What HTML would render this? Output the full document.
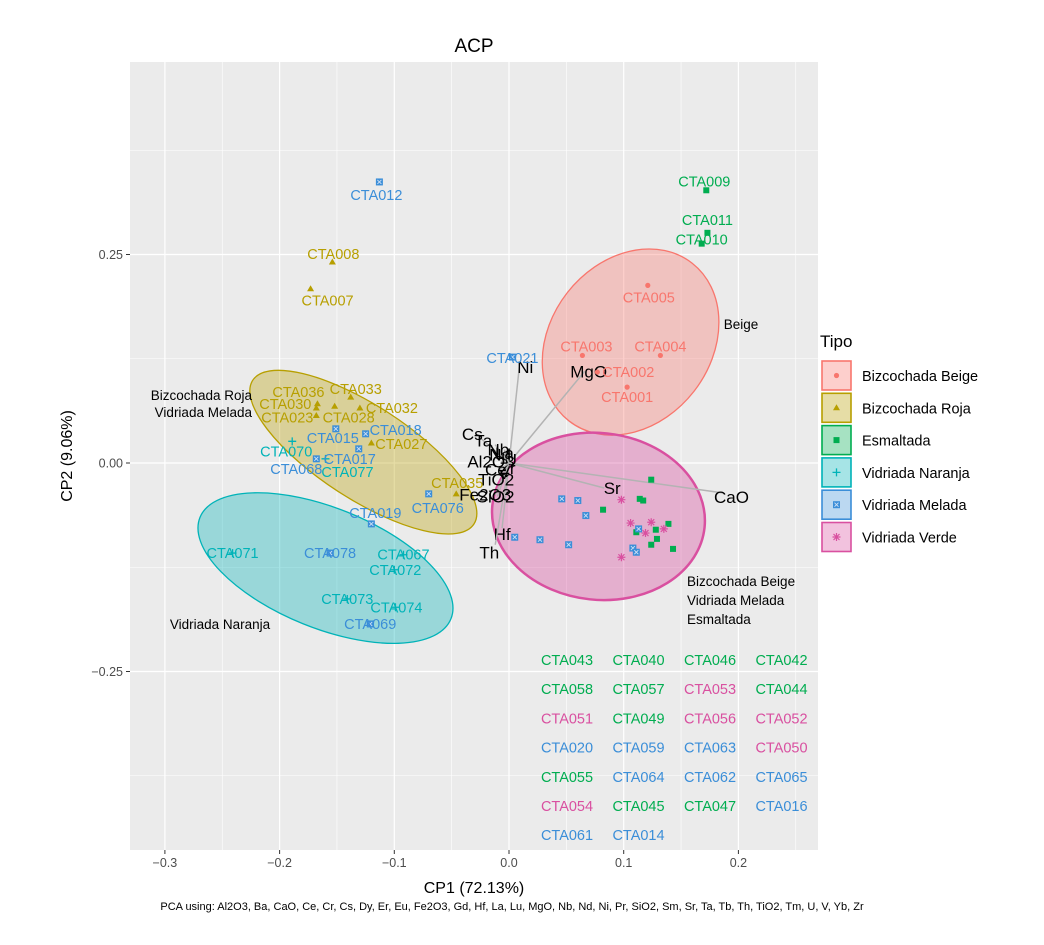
<!DOCTYPE html>
<html><head><meta charset="utf-8"><style>
body{margin:0;background:#fff;font-family:"Liberation Sans",sans-serif}
svg text{font-family:"Liberation Sans",sans-serif}
</style></head><body>
<svg id="chart" width="1044" height="940" xmlns="http://www.w3.org/2000/svg">
<rect width="1044" height="940" fill="#fff"/>
<rect x="130" y="62" width="688" height="788" fill="#EBEBEB"/>
<g id="grid"></g><g id="ellipses"></g><g id="arrows"></g><g id="points"></g><g id="labels"></g><g id="axes"></g>
<text x="474" y="52" font-size="19" text-anchor="middle">ACP</text>
<text x="474" y="893" font-size="16" text-anchor="middle">CP1 (72.13%)</text>
<text transform="translate(72,456) rotate(-90)" font-size="16" text-anchor="middle">CP2 (9.06%)</text>
<text x="512" y="910" font-size="11" text-anchor="middle">PCA using: Al2O3, Ba, CaO, Ce, Cr, Cs, Dy, Er, Eu, Fe2O3, Gd, Hf, La, Lu, MgO, Nb, Nd, Ni, Pr, SiO2, Sm, Sr, Ta, Tb, Th, TiO2, Tm, U, V, Yb, Zr</text>
<g id="legend"><text x="820" y="347" font-size="17">Tipo</text></g>
<g id="table"></g>
</svg>
<script>
const NS="http://www.w3.org/2000/svg";
const X=v=>509+v*1147, Y=v=>463-v*834;
const colors={Beige:"#F8766D",Roja:"#B79F00",Esm:"#00AD50",Nar:"#00B3B8",Mel:"#3B8ED8",Ver:"#D950A0"};
const xTicks=[-0.3,-0.2,-0.1,0,0.1,0.2];
const xTickLabels=["\u22120.3","\u22120.2","\u22120.1","0.0","0.1","0.2"];
const yTicks=[-0.25,0,0.25];
const yTickLabels=["\u22120.25","0.00","0.25"];
const ptIds=["CTA005","CTA003","CTA004","CTA002","CTA001","CTA009","CTA011","CTA010","CTA012","CTA021","CTA015","CTA018","CTA017","CTA068","CTA076","CTA019","CTA078","CTA069","CTA070","CTA077","CTA071","CTA067","CTA072","CTA073","CTA074","CTA008","CTA007","CTA036","CTA030","CTA023","CTA028","CTA033","CTA032","CTA027","CTA035"];
const ptType=["Beige","Beige","Beige","Beige","Beige","Esm","Esm","Esm","Mel","Mel","Mel","Mel","Mel","Mel","Mel","Mel","Mel","Mel","Nar","Nar","Nar","Nar","Nar","Nar","Nar","Roja","Roja","Roja","Roja","Roja","Roja","Roja","Roja","Roja","Roja"];
const ptPC1=[0.121,0.064,0.132,0.077,0.103,0.172,0.173,0.168,-0.113,0.003,-0.151,-0.125,-0.131,-0.168,-0.070,-0.120,-0.156,-0.121,-0.189,-0.160,-0.241,-0.092,-0.100,-0.141,-0.099,-0.154,-0.173,-0.167,-0.168,-0.168,-0.152,-0.138,-0.130,-0.120,-0.046];
const ptPC2=[0.213,0.129,0.129,0.109,0.091,0.327,0.276,0.263,0.337,0.127,0.041,0.035,0.017,0.005,-0.037,-0.073,-0.108,-0.193,0.026,0.005,-0.108,-0.110,-0.128,-0.163,-0.173,0.241,0.209,0.071,0.066,0.057,0.068,0.079,0.066,0.024,-0.037];
const lblDx=[1,4,0,31,0,-2,0,0,-3,0,-3,30,-9,-20,9,4,0,0,-6,22,0,0,1,0,1,1,17,-19,-31,-29,14,5,32,30,1];
const lblDy=[12,-9,-9,0,10,-9,-13,-4,13,1,9,-4,10,10,14,-11,0,0,10,13,0,0,0,0,0,-8,12,-12,-4,2,11,-8,0,1,-11];
const upType=["Esm","Esm","Esm","Esm","Esm","Esm","Esm","Esm","Esm","Esm","Ver","Ver","Ver","Ver","Ver","Ver","Mel","Mel","Mel","Mel","Mel","Mel","Mel","Mel","Mel"];
const upPC1=[0.124,0.114,0.117,0.082,0.111,0.128,0.139,0.129,0.124,0.143,0.098,0.106,0.124,0.119,0.135,0.098,0.046,0.060,0.067,0.113,0.108,0.111,0.005,0.027,0.052];
const upPC2=[-0.020,-0.043,-0.045,-0.056,-0.083,-0.080,-0.073,-0.091,-0.098,-0.103,-0.044,-0.072,-0.071,-0.084,-0.079,-0.113,-0.043,-0.045,-0.063,-0.079,-0.102,-0.107,-0.089,-0.092,-0.098];
const vars=["Ni","MgO","CaO","Sr","Cs","Ta","Hf","Th","Al2O3","Fe2O3","SiO2","TiO2","Nb","Nd","U","V","Zr","La","Ce"];
const load1=[0.009,0.066,0.187,0.083,-0.025,-0.012,-0.006,-0.012,-0.007,-0.012,-0.010,-0.006,-0.004,-0.006,-0.002,-0.006,-0.003,-0.004,-0.008];
const load2=[0.115,0.110,-0.036,-0.030,0.030,0.022,-0.078,-0.098,0.002,-0.038,-0.040,-0.020,0.016,0.010,0.004,-0.012,-0.006,0.012,-0.008];
const varDx=[6,4,8,8,-8,-12,0,-6,-10,-10,-2,-6,-6,-2,4,2,2,0,-4];
const varDy=[0,0,4,0,-4,-4,6,8,0,0,0,0,0,0,0,0,0,0,0];
const ellType=["Beige","Ver","Roja","Nar"];
const ellCX=[0.106,0.078,-0.127,-0.160];
const ellCY=[0.145,-0.064,0.013,-0.126];
const ellRX=[0.070,0.093,0.115,0.118];
const ellRY=[0.120,0.100,0.056,0.072];
const ellAngle=[38,6,33,22];
const legTypes=["Beige","Roja","Esm","Nar","Mel","Ver"];
const legNames=["Bizcochada Beige","Bizcochada Roja","Esmaltada","Vidriada Naranja","Vidriada Melada","Vidriada Verde"];
const tableIds=[["CTA043","CTA040","CTA046","CTA042"],["CTA058","CTA057","CTA053","CTA044"],["CTA051","CTA049","CTA056","CTA052"],["CTA020","CTA059","CTA063","CTA050"],["CTA055","CTA064","CTA062","CTA065"],["CTA054","CTA045","CTA047","CTA016"],["CTA061","CTA014"]];
const tableType=[["Esm","Esm","Esm","Esm"],["Esm","Esm","Ver","Esm"],["Ver","Esm","Ver","Ver"],["Mel","Mel","Mel","Ver"],["Esm","Mel","Mel","Mel"],["Ver","Esm","Esm","Mel"],["Mel","Mel"]];

function el(tag,attrs,parent){const e=document.createElementNS(NS,tag);for(const k in attrs)e.setAttribute(k,attrs[k]);parent.appendChild(e);return e;}
const g=id=>document.getElementById(id);
const grid=g("grid");
for(let v=-0.35;v<=0.26;v+=0.1){const l=el("line",{x1:X(v),x2:X(v),y1:62,y2:850,stroke:"#fff","stroke-width":0.6},grid);}
[-0.375,-0.125,0.125,0.375].forEach(v=>{const l=el("line",{x1:130,x2:818,y1:Y(v),y2:Y(v),stroke:"#fff","stroke-width":0.6},grid);});
const ax=g("axes");
xTicks.forEach((v,i)=>{const l=el("line",{x1:X(v),x2:X(v),y1:62,y2:850,stroke:"#fff","stroke-width":1.2},grid);
el("line",{x1:X(v),x2:X(v),y1:850,y2:854,stroke:"#333"},ax);
const t=el("text",{x:X(v),y:867,"font-size":12.5,fill:"#4d4d4d","text-anchor":"middle"},ax);t.textContent=xTickLabels[i];});
yTicks.forEach((v,i)=>{const l=el("line",{x1:130,x2:818,y1:Y(v),y2:Y(v),stroke:"#fff","stroke-width":1.2},grid);
el("line",{x1:126,x2:130,y1:Y(v),y2:Y(v),stroke:"#333"},ax);
const t=el("text",{x:123,y:Y(v)+4.5,"font-size":12.5,fill:"#4d4d4d","text-anchor":"end"},ax);t.textContent=yTickLabels[i];});
ellType.forEach((t,i)=>{const e=el("ellipse",{cx:X(ellCX[i]),cy:Y(ellCY[i]),rx:ellRX[i]*1147,ry:ellRY[i]*834,fill:colors[t],"fill-opacity":t=="Ver"?0.38:0.35,stroke:colors[t],"stroke-width":t=="Ver"?2.5:1.3,transform:`rotate(${ellAngle[i]} ${X(ellCX[i])} ${Y(ellCY[i])})`},g("ellipses"));});
const ann=[["Beige",741,329,"middle"],["Bizcochada Roja",252,400,"end"],["Vidriada Melada",252,417,"end"],["Vidriada Naranja",220,629,"middle"],["Bizcochada Beige",687,586,"start"],["Vidriada Melada",687,605,"start"],["Esmaltada",687,624,"start"]];
ann.forEach(a=>{const t=el("text",{x:a[1],y:a[2],"font-size":13.5,"text-anchor":a[3]},g("ellipses"));t.textContent=a[0];});
function marker(type,x,y,parent){const c=colors[type];let m;
if(type=="Beige")m=el("circle",{cx:x,cy:y,r:2.6,fill:c},parent);
else if(type=="Roja")m=el("polygon",{points:`${x},${y-3.5} ${x-3.5},${y+2.5} ${x+3.5},${y+2.5}`,fill:c},parent);
else if(type=="Esm")m=el("rect",{x:x-3,y:y-3,width:6,height:6,fill:c},parent);
else if(type=="Nar")m=el("path",{d:`M${x-4},${y}H${x+4}M${x},${y-4}V${y+4}`,stroke:c,"stroke-width":1.3},parent);
else if(type=="Mel"){m=el("g",{},parent);el("rect",{x:x-3.5,y:y-3.5,width:7,height:7,fill:c},m);el("path",{d:`M${x-2},${y-2}L${x+2},${y+2}M${x+2},${y-2}L${x-2},${y+2}`,stroke:"#cfe0f5","stroke-width":0.9},m);}
else{m=el("path",{d:`M${x-4},${y}H${x+4}M${x},${y-4}V${y+4}M${x-3},${y-3}L${x+3},${y+3}M${x+3},${y-3}L${x-3},${y+3}`,stroke:c,"stroke-width":1.2},parent);}
return m;}
const ar=g("arrows");
vars.forEach((v,i)=>{const x2=X(load1[i]),y2=Y(load2[i]);const l=el("line",{x1:509,y1:463,x2:x2,y2:y2,stroke:"#b3b3b3","stroke-width":1.5},ar);
const t=el("text",{x:x2+varDx[i],y:y2+varDy[i]+6,"font-size":17,"text-anchor":"middle",fill:"#000"},ar);t.textContent=v;});
const pts=g("points"),lb=g("labels");
upType.forEach((t,i)=>{const m=marker(t,X(upPC1[i]),Y(upPC2[i]),pts);});
ptIds.forEach((id,i)=>{const x=X(ptPC1[i]),y=Y(ptPC2[i]);const m=marker(ptType[i],x,y,pts);
const t=el("text",{x:x+lblDx[i],y:y+lblDy[i]+5,"font-size":14.5,"text-anchor":"middle",fill:colors[ptType[i]]},lb);t.textContent=id;});
tableIds.forEach((row,r)=>row.forEach((id,c)=>{const t=el("text",{x:567+c*71.5,y:665+r*29.2,"font-size":14.5,"text-anchor":"middle",fill:colors[tableType[r][c]]},g("table"));t.textContent=id;}));
const lg=g("legend");
legTypes.forEach((t,i)=>{const y=361+i*32.3;const item=el("g",{},lg);
el("rect",{x:822,y:y,width:29,height:29,fill:colors[t],"fill-opacity":0.35,stroke:colors[t],"stroke-width":1.6},item);
marker(t,836.5,y+14.5,item);
const tx=el("text",{x:862,y:y+20,"font-size":14.5},item);tx.textContent=legNames[i];});
</script>
</body></html>
